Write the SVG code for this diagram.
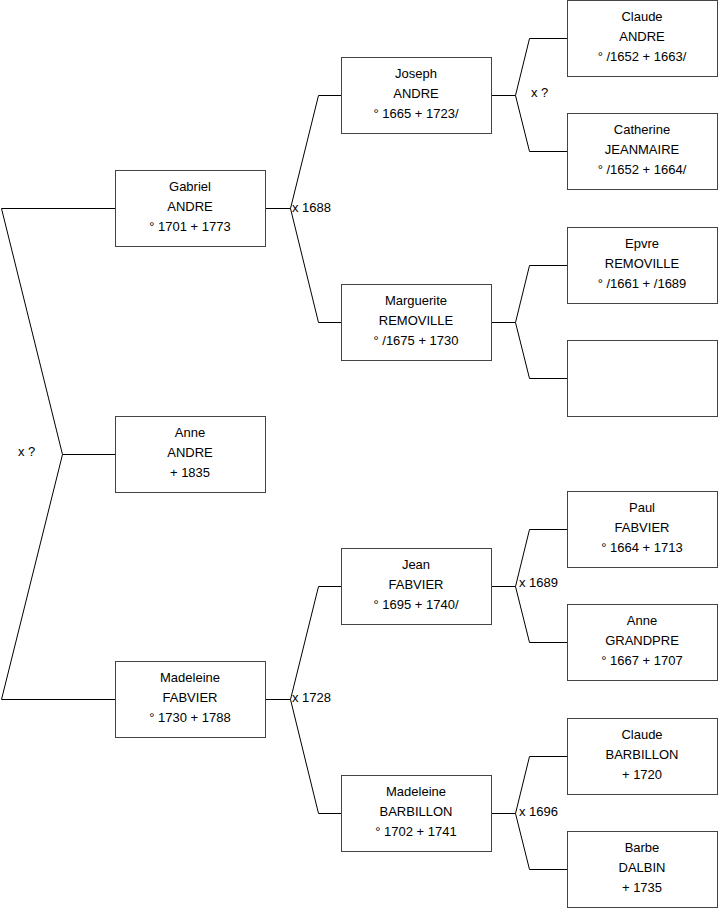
<svg xmlns="http://www.w3.org/2000/svg" width="719" height="908" viewBox="0 0 719 908">
<style>
.box{fill:#fff;stroke:#444;stroke-width:1}
.t{font-family:"Liberation Sans",Arial,sans-serif;font-size:13px;fill:#000;text-anchor:middle}
.l{font-family:"Liberation Sans",Arial,sans-serif;font-size:13px;fill:#000}
.c{fill:none;stroke:#000;stroke-width:1}
</style>
<rect width="719" height="908" fill="#fff"/>
<g id="connectors">
<path class="c" d="M115.5,208.5H1.5L62.5,454.5L1.5,699.5H115.5M62.5,454.5H115.5"/>
<path class="c" d="M265.5,208.5H290.5M318.5,95.5L290.5,208.5L318.5,322.5M318.5,95.5H341.5M318.5,322.5H341.5"/>
<path class="c" d="M265.5,699.5H290.5M318.5,586.5L290.5,699.5L318.5,813.5M318.5,586.5H341.5M318.5,813.5H341.5"/>
<path class="c" d="M491.5,95.5H515.5M529.5,38.5L515.5,95.5L529.5,151.5M529.5,38.5H567.5M529.5,151.5H567.5"/>
<path class="c" d="M491.5,322.5H515.5M529.5,265.5L515.5,322.5L529.5,378.5M529.5,265.5H567.5M529.5,378.5H567.5"/>
<path class="c" d="M491.5,586.5H515.5M529.5,529.5L515.5,586.5L529.5,642.5M529.5,529.5H567.5M529.5,642.5H567.5"/>
<path class="c" d="M491.5,813.5H515.5M529.5,756.5L515.5,813.5L529.5,869.5M529.5,756.5H567.5M529.5,869.5H567.5"/>
<text class="l" x="18" y="456">x ?</text>
<text class="l" x="292" y="212">x 1688</text>
<text class="l" x="292" y="702">x 1728</text>
<text class="l" x="531" y="97">x ?</text>
<text class="l" x="519" y="587">x 1689</text>
<text class="l" x="519" y="816">x 1696</text>
</g>
<g id="gabriel"><rect class="box" x="115.5" y="170.5" width="150" height="76"/>
<text class="t" x="190" y="191">Gabriel</text><text class="t" x="190" y="211">ANDRE</text><text class="t" x="190" y="231">° 1701 + 1773</text></g>
<g id="anne-andre"><rect class="box" x="115.5" y="416.5" width="150" height="76"/>
<text class="t" x="190" y="437">Anne</text><text class="t" x="190" y="457">ANDRE</text><text class="t" x="190" y="477"> + 1835</text></g>
<g id="madeleine-fabvier"><rect class="box" x="115.5" y="661.5" width="150" height="76"/>
<text class="t" x="190" y="682">Madeleine</text><text class="t" x="190" y="702">FABVIER</text><text class="t" x="190" y="722">° 1730 + 1788</text></g>
<g id="joseph"><rect class="box" x="341.5" y="57.5" width="150" height="76"/>
<text class="t" x="416" y="78">Joseph</text><text class="t" x="416" y="98">ANDRE</text><text class="t" x="416" y="118">° 1665 + 1723/</text></g>
<g id="marguerite"><rect class="box" x="341.5" y="284.5" width="150" height="76"/>
<text class="t" x="416" y="305">Marguerite</text><text class="t" x="416" y="325">REMOVILLE</text><text class="t" x="416" y="345">° /1675 + 1730</text></g>
<g id="jean"><rect class="box" x="341.5" y="548.5" width="150" height="76"/>
<text class="t" x="416" y="569">Jean</text><text class="t" x="416" y="589">FABVIER</text><text class="t" x="416" y="609">° 1695 + 1740/</text></g>
<g id="madeleine-barbillon"><rect class="box" x="341.5" y="775.5" width="150" height="76"/>
<text class="t" x="416" y="796">Madeleine</text><text class="t" x="416" y="816">BARBILLON</text><text class="t" x="416" y="836">° 1702 + 1741</text></g>
<g id="claude-andre"><rect class="box" x="567.5" y="0.5" width="150" height="76"/>
<text class="t" x="642" y="21">Claude</text><text class="t" x="642" y="41">ANDRE</text><text class="t" x="642" y="61">° /1652 + 1663/</text></g>
<g id="catherine"><rect class="box" x="567.5" y="113.5" width="150" height="76"/>
<text class="t" x="642" y="134">Catherine</text><text class="t" x="642" y="154">JEANMAIRE</text><text class="t" x="642" y="174">° /1652 + 1664/</text></g>
<g id="epvre"><rect class="box" x="567.5" y="227.5" width="150" height="76"/>
<text class="t" x="642" y="248">Epvre</text><text class="t" x="642" y="268">REMOVILLE</text><text class="t" x="642" y="288">° /1661 + /1689</text></g>
<g id="unknown"><rect class="box" x="567.5" y="340.5" width="150" height="76"/></g>
<g id="paul"><rect class="box" x="567.5" y="491.5" width="150" height="76"/>
<text class="t" x="642" y="512">Paul</text><text class="t" x="642" y="532">FABVIER</text><text class="t" x="642" y="552">° 1664 + 1713</text></g>
<g id="anne-grandpre"><rect class="box" x="567.5" y="604.5" width="150" height="76"/>
<text class="t" x="642" y="625">Anne</text><text class="t" x="642" y="645">GRANDPRE</text><text class="t" x="642" y="665">° 1667 + 1707</text></g>
<g id="claude-barbillon"><rect class="box" x="567.5" y="718.5" width="150" height="76"/>
<text class="t" x="642" y="739">Claude</text><text class="t" x="642" y="759">BARBILLON</text><text class="t" x="642" y="779"> + 1720</text></g>
<g id="barbe"><rect class="box" x="567.5" y="831.5" width="150" height="76"/>
<text class="t" x="642" y="852">Barbe</text><text class="t" x="642" y="872">DALBIN</text><text class="t" x="642" y="892"> + 1735</text></g>
</svg>
